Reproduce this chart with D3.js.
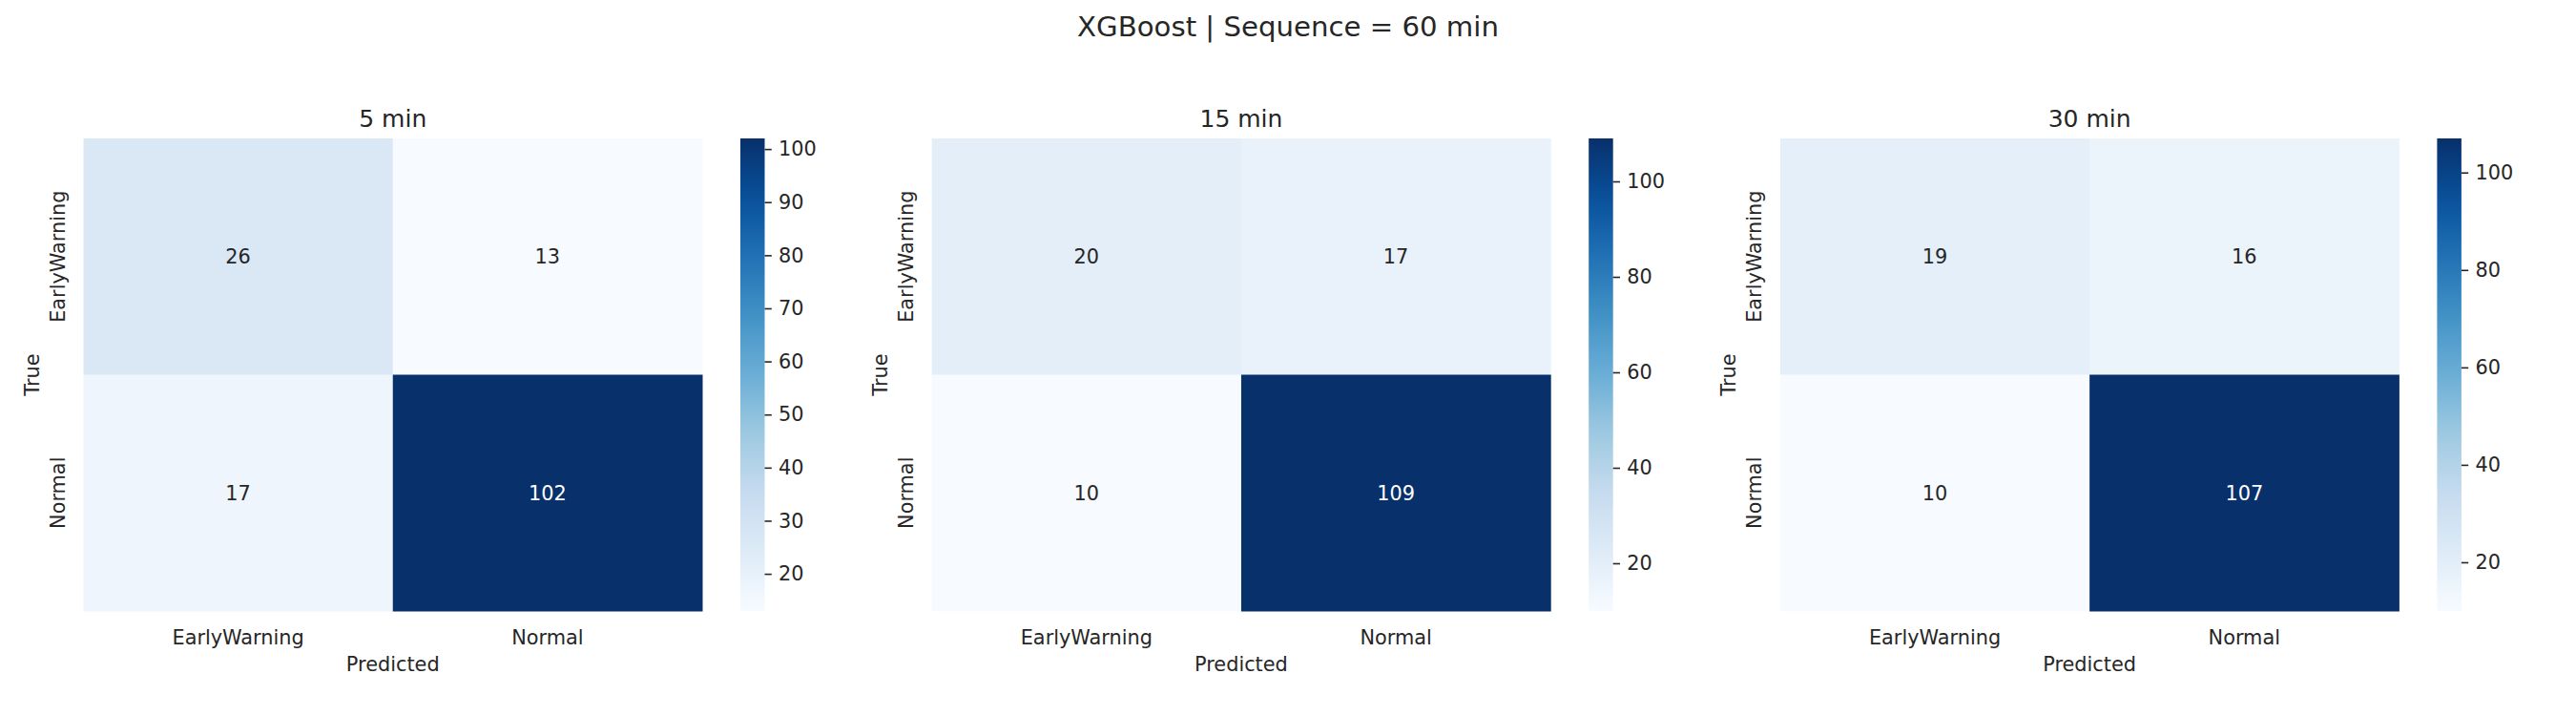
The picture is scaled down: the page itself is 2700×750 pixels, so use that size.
<!DOCTYPE html>
<html>
<head>
<meta charset="utf-8">
<script src="https://cdn.jsdelivr.net/npm/d3@7"></script>
<style>
  body { margin: 0; background: #fff; }
  text { font-family: "DejaVu Sans", sans-serif; fill: #262626; }
</style>
</head>
<body>
<div id="main"></div>
<script>
const ctx = {
    w: 2700,
    h: 750,
    FS: 20.83
};

// data
const suptitle = "XGBoost | Sequence = 60 min";
const panelTitles = ["5 min", "15 min", "30 min"];
const classes = ["EarlyWarning", "Normal"];
const matrices = [
    [[26, 13], [17, 102]],
    [[20, 17], [10, 109]],
    [[19, 16], [10, 107]]
];
const cbarTicks = [
    [20, 30, 40, 50, 60, 70, 80, 90, 100],
    [20, 40, 60, 80, 100],
    [20, 40, 60, 80, 100]
];

// matplotlib "Blues" stops
const bluesStops = ["#f7fbff", "#deebf7", "#c6dbef", "#9ecae1", "#6baed6",
                    "#4292c6", "#2171b5", "#08519c", "#08306b"];

//==============================================================================================
function drawPanel(svg, i) {
    const left = 87.5 + i * 889.2;
    const top = 145, bottom = 640;
    const hmW = 648.5;
    const m = matrices[i];
    const flat = m.flat();
    const vmin = d3.min(flat), vmax = d3.max(flat);

    const blues = d3.scaleLinear()
        .domain(d3.range(bluesStops.length).map(k => k / (bluesStops.length - 1)))
        .range(bluesStops)
        .interpolate(d3.interpolateRgb);
    const color = v => blues((v - vmin) / (vmax - vmin));

    const x = d3.scaleBand().domain(classes).range([left, left + hmW]);
    const y = d3.scaleBand().domain(classes).range([top, bottom]);

    const g = svg.append("g");

    const cells = [];
    m.forEach((row, r) => row.forEach((v, c) => cells.push({ t: classes[r], p: classes[c], v: v })));

    g.selectAll("rect.cell")
        .data(cells)
        .enter().append("rect")
        .attr("class", "cell")
        .attr("x", d => x(d.p))
        .attr("y", d => y(d.t))
        .attr("width", x.bandwidth() + 0.5)
        .attr("height", y.bandwidth() + 0.5)
        .attr("fill", d => color(d.v));

    g.selectAll("text.annot")
        .data(cells)
        .enter().append("text")
        .attr("class", "annot")
        .attr("x", d => x(d.p) + x.bandwidth() / 2)
        .attr("y", d => y(d.t) + y.bandwidth() / 2)
        .attr("dy", "0.36em")
        .attr("text-anchor", "middle")
        .attr("font-size", ctx.FS)
        .style("fill", d => (d.v - vmin) / (vmax - vmin) > 0.6 ? "#ffffff" : "#262626")
        .text(d => d.v);

    // x tick labels
    g.selectAll("text.xt")
        .data(classes)
        .enter().append("text")
        .attr("class", "xt")
        .attr("x", d => x(d) + x.bandwidth() / 2)
        .attr("y", 675)
        .attr("text-anchor", "middle")
        .attr("font-size", ctx.FS)
        .text(d => d);

    // y tick labels (rotated)
    g.selectAll("text.yt")
        .data(classes)
        .enter().append("text")
        .attr("class", "yt")
        .attr("transform", d => `translate(${left - 19.5},${y(d) + y.bandwidth() / 2}) rotate(-90)`)
        .attr("text-anchor", "middle")
        .attr("font-size", ctx.FS)
        .text(d => d);

    g.append("text")
        .attr("x", left + hmW / 2)
        .attr("y", 703)
        .attr("text-anchor", "middle")
        .attr("font-size", ctx.FS)
        .text("Predicted");

    g.append("text")
        .attr("transform", `translate(${left - 47},${(top + bottom) / 2}) rotate(-90)`)
        .attr("text-anchor", "middle")
        .attr("font-size", ctx.FS)
        .text("True");

    g.append("text")
        .attr("x", left + hmW / 2)
        .attr("y", 133)
        .attr("text-anchor", "middle")
        .attr("font-size", 25)
        .text(panelTitles[i]);

    // colorbar
    const cbX = left + 688.5, cbW = 25.5;
    const cy = d3.scaleLinear().domain([vmin, vmax]).range([bottom, top]);
    const gradId = "grad" + i;
    const grad = svg.append("defs").append("linearGradient")
        .attr("id", gradId)
        .attr("x1", 0).attr("y1", 1).attr("x2", 0).attr("y2", 0);
    d3.range(0, 1.0001, 0.05).forEach(t => {
        grad.append("stop")
            .attr("offset", t)
            .attr("stop-color", blues(t));
    });
    g.append("rect")
        .attr("x", cbX)
        .attr("y", top)
        .attr("width", cbW)
        .attr("height", bottom - top)
        .attr("fill", `url(#${gradId})`);

    const axis = g.append("g")
        .attr("transform", `translate(${cbX + cbW},0)`)
        .call(d3.axisRight(cy).tickValues(cbarTicks[i]).tickSize(7.3).tickPadding(7.3));
    axis.select(".domain").remove();
    axis.selectAll(".tick line").attr("stroke", "#262626").attr("stroke-width", 1.6);
    axis.selectAll(".tick text")
        .attr("font-size", ctx.FS)
        .attr("font-family", "DejaVu Sans")
        .style("fill", "#262626");
}

function createViz() {
    const svg = d3.select("#main").append("svg")
        .attr("width", ctx.w)
        .attr("height", ctx.h);

    svg.append("text")
        .attr("x", ctx.w / 2)
        .attr("y", 38)
        .attr("text-anchor", "middle")
        .attr("font-size", 29.2)
        .text(suptitle);

    panelTitles.forEach((t, i) => drawPanel(svg, i));
}

createViz();
</script>
</body>
</html>
